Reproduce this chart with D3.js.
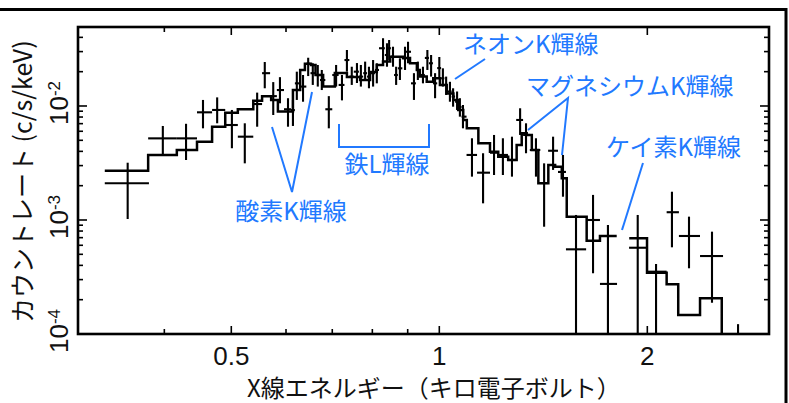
<!DOCTYPE html>
<html>
<head>
<meta charset="utf-8">
<script src="https://cdn.jsdelivr.net/npm/d3@7"></script>
<style>
  html, body { margin: 0; padding: 0; background: #fff; }
  svg { display: block; }
</style>
</head>
<body>
<svg id="chart" width="789" height="403"></svg>
<script>
// Observed spectrum: bin centre, bin edges (keV), count rate and its error range (c/s/keV).
// A lower error of 0 means the bar runs down past the bottom of the plot.
const energy = [0.354,0.398,0.430,0.455,0.477,0.501,0.523,0.545,0.559,0.575,0.588,0.604,0.614,0.622,0.635,0.646,0.656,0.667,0.676,0.692,0.709,0.723,0.735,0.747,0.760,0.770,0.781,0.791,0.802,0.812,0.829,0.840,0.846,0.857,0.866,0.877,0.892,0.901,0.919,0.931,0.947,0.961,0.973,0.986,1.000,1.012,1.023,1.036,1.047,1.061,1.071,1.082,1.115,1.157,1.200,1.236,1.274,1.309,1.335,1.380,1.418,1.461,1.510,1.577,1.669,1.754,1.937,2.059,2.171,2.298,2.481,2.706];
const energyLo = [0.328,0.379,0.417,0.446,0.469,0.490,0.511,0.538,0.554,0.569,0.582,0.596,0.610,0.618,0.629,0.642,0.651,0.662,0.672,0.684,0.700,0.715,0.729,0.741,0.752,0.765,0.776,0.786,0.796,0.807,0.818,0.834,0.843,0.851,0.860,0.871,0.884,0.895,0.910,0.925,0.937,0.953,0.966,0.979,0.993,1.006,1.017,1.028,1.042,1.054,1.066,1.077,1.095,1.134,1.184,1.216,1.257,1.292,1.322,1.352,1.400,1.437,1.485,1.525,1.631,1.708,1.882,1.998,2.133,2.222,2.384,2.574];
const energyHi = [0.380,0.417,0.446,0.469,0.490,0.511,0.538,0.554,0.569,0.582,0.596,0.610,0.618,0.629,0.642,0.651,0.662,0.672,0.684,0.700,0.715,0.729,0.741,0.752,0.765,0.776,0.786,0.796,0.807,0.818,0.834,0.843,0.851,0.860,0.871,0.884,0.895,0.910,0.925,0.937,0.953,0.966,0.979,0.993,1.006,1.017,1.028,1.042,1.054,1.066,1.077,1.095,1.134,1.184,1.216,1.257,1.292,1.322,1.352,1.400,1.437,1.485,1.525,1.631,1.708,1.808,1.998,2.133,2.222,2.384,2.574,2.850];
const rate = [2.10e-3,5.2e-3,5.2e-3,8.8e-3,9.23e-3,6.81e-3,5.38e-3,1.04e-2,1.94e-2,1.22e-2,1.38e-2,9.36e-3,9.2e-3,1.58e-2,1.48e-2,2.35e-2,1.94e-2,1.87e-2,1.69e-2,9.36e-3,1.87e-2,1.53e-2,2.53e-2,1.81e-2,2.0e-2,1.81e-2,1.94e-2,1.81e-2,1.94e-2,2.07e-2,3.21e-2,2.80e-2,3.21e-2,2.71e-2,1.87e-2,2.14e-2,2.62e-2,2.99e-2,1.58e-2,2.07e-2,1.87e-2,2.64e-2,2.37e-2,1.58e-2,2.15e-2,1.75e-2,1.53e-2,1.34e-2,1.21e-2,1.09e-2,9.8e-3,8.06e-3,3.72e-3,2.60e-3,3.89e-3,3.72e-3,3.36e-3,7.54e-3,5.57e-3,4.11e-3,2.11e-3,4.05e-3,2.64e-3,5.53e-4,1.0e-3,2.75e-4,5.71e-4,3.52e-4,1.17e-3,7.24e-4,4.83e-4,5e-5];
const rateLo = [1.02e-3,3.64e-3,3.36e-3,6.37e-3,7.05e-3,4.26e-3,3.14e-3,6.58e-3,1.43e-2,8.34e-3,1.056e-2,6.58e-3,6.68e-3,1.13e-2,1.09e-2,1.83e-2,1.53e-2,1.48e-2,1.38e-2,6.37e-3,1.48e-2,1.12e-2,2.0e-2,1.53e-2,1.59e-2,1.48e-2,1.69e-2,1.43e-2,1.48e-2,1.58e-2,2.45e-2,2.21e-2,2.53e-2,2.21e-2,1.53e-2,1.69e-2,2.07e-2,2.37e-2,1.13e-2,1.69e-2,1.58e-2,2.07e-2,1.81e-2,1.17e-2,1.75e-2,1.48e-2,1.25e-2,1.09e-2,9.86e-3,9.23e-3,8.06e-3,6.37e-3,2.40e-3,1.40e-3,2.48e-3,2.48e-3,2.40e-3,5.57e-3,3.85e-3,2.40e-3,8.73e-4,2.75e-3,1.60e-3,0,3.41e-4,0,0,0,5.76e-4,3.77e-4,1.88e-4,0];
const rateHi = [3.18e-3,6.68e-3,6.98e-3,1.13e-2,1.19e-2,9.23e-3,7.05e-3,1.31e-2,2.43e-2,1.62e-2,1.79e-2,1.17e-2,1.13e-2,2.0e-2,1.87e-2,2.65e-2,2.37e-2,2.29e-2,2.07e-2,1.22e-2,2.29e-2,1.87e-2,3.10e-2,2.21e-2,2.38e-2,2.29e-2,2.45e-2,2.21e-2,2.53e-2,2.37e-2,3.93e-2,3.55e-2,3.79e-2,3.31e-2,2.21e-2,2.62e-2,3.31e-2,3.66e-2,1.94e-2,2.45e-2,2.21e-2,3.10e-2,2.80e-2,1.94e-2,2.69e-2,2.14e-2,1.81e-2,1.63e-2,1.43e-2,1.34e-2,1.17e-2,1.02e-2,5.21e-3,3.85e-3,5.57e-3,5.21e-3,5.38e-3,9.55e-3,7.05e-3,5.21e-3,3.14e-3,5.38e-3,3.72e-3,1.107e-3,1.66e-3,9.04e-4,1.107e-3,4.11e-4,1.77e-3,1.07e-3,7.90e-4,1.22e-4];

// Best-fit model, one value per model bin (keV edges, c/s/keV).
const modelLo = [0.328,0.379,0.417,0.446,0.469,0.490,0.511,0.538,0.554,0.571,0.584,0.614,0.629,0.639,0.652,0.662,0.679,0.706,0.735,0.768,0.794,0.812,0.829,0.849,0.886,0.907,0.928,0.937,0.959,0.980,1.002,1.025,1.048,1.065,1.083,1.096,1.139,1.184,1.217,1.258,1.294,1.316,1.338,1.361,1.391,1.438,1.471,1.504,1.529,1.634,1.708,1.883,1.998,2.133,2.217,2.384];
const modelHi = [0.379,0.417,0.446,0.469,0.490,0.511,0.538,0.554,0.571,0.584,0.614,0.629,0.639,0.652,0.662,0.679,0.706,0.735,0.768,0.794,0.812,0.829,0.849,0.886,0.907,0.928,0.937,0.959,0.980,1.002,1.025,1.048,1.065,1.083,1.096,1.139,1.184,1.217,1.258,1.294,1.316,1.338,1.361,1.391,1.438,1.471,1.504,1.529,1.634,1.708,1.806,1.998,2.133,2.217,2.384,2.563];
const modelRate = [2.71e-3,3.72e-3,4.11e-3,4.86e-3,6.58e-3,8.73e-3,9.36e-3,1.11e-2,1.22e-2,1.13e-2,8.95e-3,1.38e-2,2.07e-2,2.35e-2,2.29e-2,1.87e-2,1.48e-2,1.95e-2,1.80e-2,1.69e-2,1.99e-2,2.29e-2,2.45e-2,2.71e-2,2.64e-2,2.37e-2,2.07e-2,1.81e-2,1.63e-2,1.75e-2,1.53e-2,1.29e-2,1.13e-2,9.23e-3,7.54e-3,6.37e-3,4.71e-3,3.97e-3,3.59e-3,3.36e-3,4.55e-3,5.76e-3,5.57e-3,4.11e-3,2.10e-3,3.04e-3,2.93e-3,2.32e-3,1.07e-3,6.58e-4,7.24e-4,6.91e-4,3.45e-4,2.73e-4,1.47e-4,2.06e-4];

// Axis ticks
const xMajorTicks = [0.5, 1, 2];
const xTickLabels = ["0.5", "1", "2"];
const xMinorTicks = [0.4, 0.6, 0.7, 0.8, 0.9];
const yDecades = [-4, -3, -2];

// Line annotations
const annotations = [
  { text: "ネオンK輝線", x: 463, y: 53, anchor: "start" },
  { text: "マグネシウムK輝線", x: 526, y: 95, anchor: "start" },
  { text: "ケイ素K輝線", x: 606, y: 156, anchor: "start" },
  { text: "鉄L輝線", x: 387, y: 173, anchor: "middle" },
  { text: "酸素K輝線", x: 291, y: 220, anchor: "middle" }
];
const pointers = [
  [[455, 79], [485, 59]],
  [[528, 130], [568, 98], [562, 155]],
  [[643, 163], [622, 230]],
  [[339, 124], [339, 147], [429, 147], [429, 124]],
  [[272, 127], [292, 192], [312, 92]]
];

const W = 789, H = 403;
const plot = { left: 78, right: 769, top: 27, bottom: 334 };
const blue = "#2179ff";
const numFont = "'Liberation Sans', Arial, sans-serif";
const jpFont = "'Noto Sans CJK JP', 'Liberation Sans', sans-serif";

const svg = d3.select("#chart");

const x = d3.scaleLog().domain([0.3, 3]).range([plot.left, plot.right]);
const y = d3.scaleLog().domain([1e-4, 4.93e-2]).range([plot.bottom, plot.top]);

// Outer frame
svg.append("rect")
  .attr("x", -10).attr("y", 9.5)
  .attr("width", 786 + 10).attr("height", H + 20)
  .attr("fill", "none").attr("stroke", "#000").attr("stroke-width", 3);

svg.append("clipPath").attr("id", "plotClip")
  .append("rect")
  .attr("x", plot.left).attr("y", plot.top)
  .attr("width", plot.right - plot.left).attr("height", plot.bottom - plot.top);

// Ticks (inward on all four sides)
const tickG = svg.append("g").attr("stroke", "#000").attr("stroke-width", 1.6);
function xTicks(vals, len) {
  vals.forEach(v => {
    tickG.append("line").attr("x1", x(v)).attr("x2", x(v))
      .attr("y1", plot.bottom).attr("y2", plot.bottom - len);
    tickG.append("line").attr("x1", x(v)).attr("x2", x(v))
      .attr("y1", plot.top).attr("y2", plot.top + len);
  });
}
xTicks(xMajorTicks, 8);
xTicks(xMinorTicks, 5);

const yMinor = [];
yDecades.forEach(e => {
  for (let k = 2; k <= 9; k++) {
    const v = k * Math.pow(10, e);
    if (v <= y.domain()[1]) yMinor.push(v);
  }
});
function yTicks(vals, len) {
  vals.forEach(v => {
    tickG.append("line").attr("y1", y(v)).attr("y2", y(v))
      .attr("x1", plot.left).attr("x2", plot.left + len);
    tickG.append("line").attr("y1", y(v)).attr("y2", y(v))
      .attr("x1", plot.right).attr("x2", plot.right - len);
  });
}
yTicks(yDecades.map(e => Math.pow(10, e)), 9);
yTicks(yMinor, 5);

// Model histogram
const modelPath = d3.path();
let prevHi = null;
modelRate.forEach((v, i) => {
  const x0 = x(modelLo[i]), x1 = x(modelHi[i]), yy = y(v);
  if (prevHi !== null && Math.abs(prevHi - modelLo[i]) < 1e-6) modelPath.lineTo(x0, yy);
  else modelPath.moveTo(x0, yy);
  modelPath.lineTo(x1, yy);
  prevHi = modelHi[i];
});
modelPath.lineTo(x(modelHi[modelHi.length - 1]), plot.bottom);
svg.append("path")
  .attr("clip-path", "url(#plotClip)")
  .attr("d", modelPath.toString())
  .attr("fill", "none").attr("stroke", "#000").attr("stroke-width", 2.5)
  .attr("stroke-linejoin", "miter");

// Data crosses
const dataG = svg.append("g").attr("clip-path", "url(#plotClip)")
  .attr("stroke", "#000").attr("stroke-width", 2.1);
energy.forEach((e, i) => {
  dataG.append("line")
    .attr("x1", x(energyLo[i])).attr("x2", x(energyHi[i]))
    .attr("y1", y(rate[i])).attr("y2", y(rate[i]));
  const yLow = rateLo[i] > 0 ? y(rateLo[i]) : plot.bottom + 5;
  dataG.append("line")
    .attr("x1", x(e)).attr("x2", x(e))
    .attr("y1", yLow).attr("y2", y(rateHi[i]));
});

// Plot frame
svg.append("rect")
  .attr("x", plot.left).attr("y", plot.top)
  .attr("width", plot.right - plot.left).attr("height", plot.bottom - plot.top)
  .attr("fill", "none").attr("stroke", "#000").attr("stroke-width", 2.6);

// X tick labels
xMajorTicks.forEach((v, i) => {
  svg.append("text")
    .attr("x", x(v)).attr("y", 365)
    .attr("text-anchor", "middle")
    .attr("font-family", numFont).attr("font-size", 26)
    .attr("fill", "#111")
    .text(xTickLabels[i]);
});

// Y tick labels: 10 with superscript exponent, rotated
yDecades.forEach(e => {
  const t = svg.append("text")
    .attr("transform", `translate(68,${y(Math.pow(10, e)) - 3}) rotate(-90)`)
    .attr("text-anchor", "middle")
    .attr("font-family", numFont).attr("font-size", 26)
    .attr("fill", "#111");
  t.append("tspan").text("10");
  t.append("tspan").attr("dy", "-0.5em").attr("font-size", 17).text(String(e));
});

// Axis titles
svg.append("text")
  .attr("transform", "translate(32,323) rotate(-90)")
  .attr("text-anchor", "start")
  .attr("font-family", jpFont).attr("font-size", 25)
  .attr("fill", "#111")
  .text("カウントレート (c/s/keV)");

svg.append("text")
  .attr("x", 247).attr("y", 397)
  .attr("text-anchor", "start")
  .attr("font-family", jpFont).attr("font-size", 24)
  .attr("fill", "#111")
  .text("X線エネルギー（キロ電子ボルト）");

// Emission-line annotations
const lineGen = d3.line();
pointers.forEach(p => {
  svg.append("path").attr("d", lineGen(p))
    .attr("fill", "none").attr("stroke", blue).attr("stroke-width", 2);
});
annotations.forEach(a => {
  svg.append("text")
    .attr("x", a.x).attr("y", a.y)
    .attr("text-anchor", a.anchor)
    .attr("font-family", jpFont).attr("font-size", 24)
    .attr("fill", blue)
    .text(a.text);
});
</script>
</body>
</html>
